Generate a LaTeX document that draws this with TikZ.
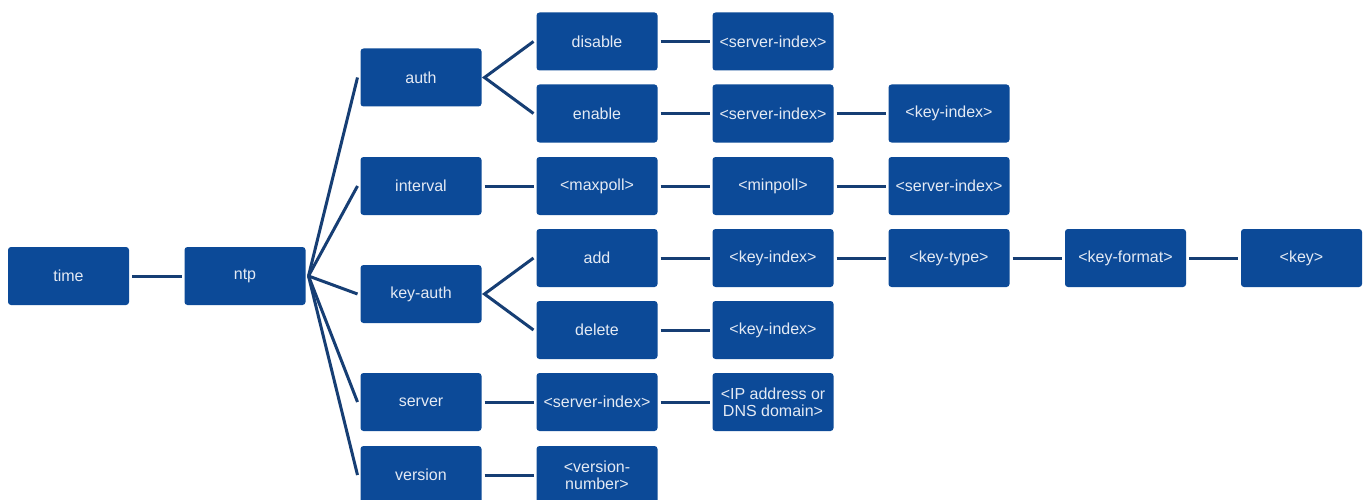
\documentclass[tikz,border=0pt]{standalone}
\usepackage{fontspec}
\setmainfont{Liberation Sans}
\definecolor{boxblue}{RGB}{12,74,152}
\definecolor{linkblue}{RGB}{22,62,116}
\definecolor{boxtext}{RGB}{228,234,244}
\tikzset{
  cmd/.style={fill=boxblue, rounded corners=3pt, minimum width=121pt, minimum height=58pt,
    inner sep=0pt, text=boxtext, font=\fontsize{16}{17}\selectfont, align=center, outer sep=3pt},
  link/.style={draw=linkblue, line width=3pt},
}
\begin{document}
\begin{tikzpicture}[x=1pt, y=-1pt]
\fill[white] (0,0) rectangle (1367,500);
\useasboundingbox (0,0) rectangle (1367,500);
% column 1-2
\node[cmd] (time) at (68.5,276) {time};
\node[cmd] (ntp) at (245,276) {ntp};
% column 3
\node[cmd] (auth) at (421,77.5) {auth};
\node[cmd] (interval) at (421,186) {interval};
\node[cmd] (keyauth) at (421,294) {key-auth};
\node[cmd] (server) at (421,402) {server};
\node[cmd] (version) at (421,475) {version};
% column 4
\node[cmd] (disable) at (597,41.5) {disable};
\node[cmd] (enable) at (597,113.5) {enable};
\node[cmd] (maxpoll) at (597,186) {<maxpoll>};
\node[cmd] (add) at (597,258) {add};
\node[cmd] (delete) at (597,330) {delete};
\node[cmd] (srvidx) at (597,402) {<server-index>};
\node[cmd] (vnum) at (597,475) {<version-\\number>};
% column 5
\node[cmd] (dsi) at (773,41.5) {<server-index>};
\node[cmd] (esi) at (773,113.5) {<server-index>};
\node[cmd] (minpoll) at (773,186) {<minpoll>};
\node[cmd] (addki) at (773,258) {<key-index>};
\node[cmd] (delki) at (773,330) {<key-index>};
\node[cmd] (ip) at (773,402) {<IP address or\\DNS domain>};
% column 6
\node[cmd] (eki) at (949,113.5) {<key-index>};
\node[cmd] (isi) at (949,186) {<server-index>};
\node[cmd] (ktype) at (949,258) {<key-type>};
% column 7-8
\node[cmd] (kformat) at (1125.5,258) {<key-format>};
\node[cmd] (key) at (1301.5,258) {<key>};
% connectors
\draw[link] (time.east) -- (ntp.west);
\foreach \c in {auth,interval,keyauth,server,version}
  \draw[link] (ntp.east) -- (\c.west);
\draw[link] (disable.west) -- (auth.east) -- (enable.west);
\draw[link] (add.west) -- (keyauth.east) -- (delete.west);
\draw[link] (disable) -- (dsi);
\draw[link] (enable) -- (esi);
\draw[link] (esi) -- (eki);
\draw[link] (interval) -- (maxpoll);
\draw[link] (maxpoll) -- (minpoll);
\draw[link] (minpoll) -- (isi);
\draw[link] (add) -- (addki);
\draw[link] (addki) -- (ktype);
\draw[link] (ktype) -- (kformat);
\draw[link] (kformat) -- (key);
\draw[link] (delete) -- (delki);
\draw[link] (server) -- (srvidx);
\draw[link] (srvidx) -- (ip);
\draw[link] (version) -- (vnum);
\end{tikzpicture}
\end{document}
